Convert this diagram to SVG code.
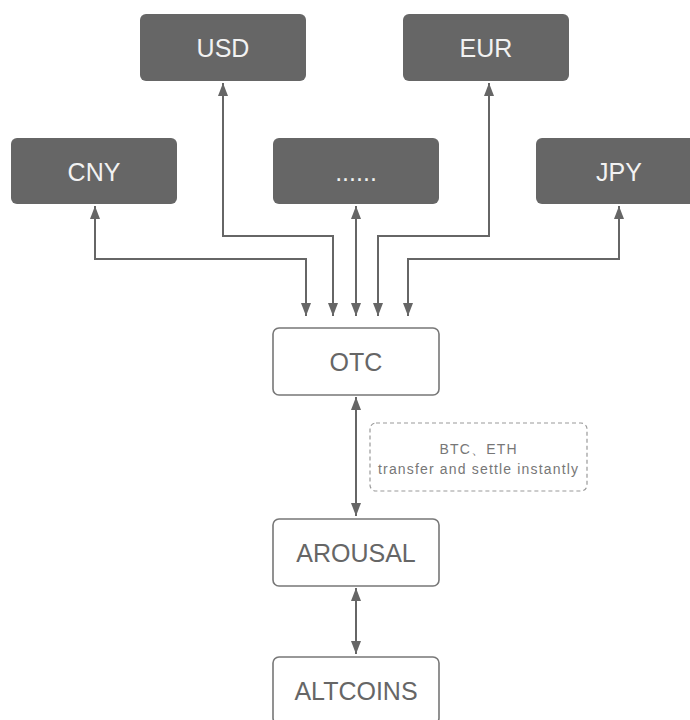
<svg xmlns="http://www.w3.org/2000/svg" width="690" height="720" viewBox="0 0 690 720">
<style>
.dark rect{fill:#666;stroke:none}
.dark text{fill:#f2f2f2}
.light rect{fill:#fff;stroke:#777;stroke-width:1.6}
.light text{fill:#666}
text{font-family:"Liberation Sans","DejaVu Sans",sans-serif;font-size:25px;text-anchor:middle}
.conn path{fill:none;stroke:#666;stroke-width:2}
.note rect{fill:#fff;stroke:#999;stroke-width:1.2;stroke-dasharray:4 3}
.note text{font-size:14px;fill:#777}
</style>
<defs>
<marker id="ah" viewBox="0 0 13 10" refX="13" refY="5" markerWidth="6.5" markerHeight="5" orient="auto-start-reverse" markerUnits="strokeWidth">
<path d="M0,0 L13,5 L0,10 z" fill="#666"/>
</marker>
</defs>
<rect width="690" height="720" fill="#fff"/>
<g class="conn">
<path d="M306,316 V259 H95 V206" marker-start="url(#ah)" marker-end="url(#ah)"/>
<path d="M333,316 V236 H223 V83" marker-start="url(#ah)" marker-end="url(#ah)"/>
<path d="M356,316 V206" marker-start="url(#ah)" marker-end="url(#ah)"/>
<path d="M378,316 V236 H489 V83" marker-start="url(#ah)" marker-end="url(#ah)"/>
<path d="M408,316 V259 H619 V206" marker-start="url(#ah)" marker-end="url(#ah)"/>
<path d="M356,397 V516" marker-start="url(#ah)" marker-end="url(#ah)"/>
<path d="M356,588 V654" marker-start="url(#ah)" marker-end="url(#ah)"/>
</g>
<g id="usd" class="dark"><rect x="140" y="14" width="166" height="67" rx="6"/><text x="223" y="57">USD</text></g>
<g id="eur" class="dark"><rect x="403" y="14" width="166" height="67" rx="6"/><text x="486" y="57">EUR</text></g>
<g id="cny" class="dark"><rect x="11" y="138" width="166" height="66" rx="6"/><text x="94" y="181">CNY</text></g>
<g id="other" class="dark"><rect x="273" y="138" width="166" height="66" rx="6"/><text x="356" y="181">......</text></g>
<g id="jpy" class="dark"><rect x="536" y="138" width="166" height="66" rx="6"/><text x="619" y="181">JPY</text></g>
<g id="otc" class="light"><rect x="273" y="328" width="166" height="67" rx="6"/><text x="356" y="371">OTC</text></g>
<g id="note" class="note"><rect x="370" y="423" width="217" height="68" rx="6"/><text x="478" y="454" textLength="77" lengthAdjust="spacing">BTC、ETH</text><text x="478" y="474" textLength="200" lengthAdjust="spacing">transfer and settle instantly</text></g>
<g id="arousal" class="light"><rect x="273" y="519" width="166" height="67" rx="6"/><text x="356" y="562">AROUSAL</text></g>
<g id="altcoins" class="light"><rect x="273" y="657" width="166" height="67" rx="6"/><text x="356" y="700">ALTCOINS</text></g>
</svg>
